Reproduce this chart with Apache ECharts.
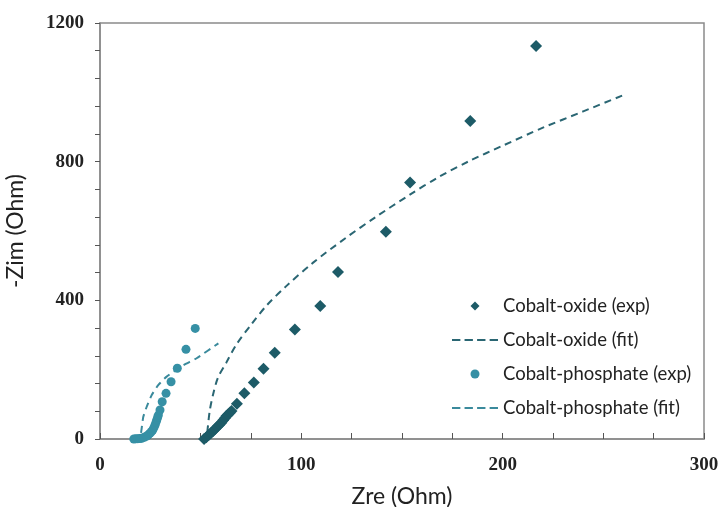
<!DOCTYPE html>
<html><head><meta charset="utf-8">
<script src="https://cdn.jsdelivr.net/npm/echarts@6/dist/echarts.min.js"></script>
<style>html,body{margin:0;padding:0;background:#fff}#c{width:723px;height:507px}</style>
</head><body><div id="c"></div>
<script>
const seriesNames = ['Cobalt-oxide (exp)', 'Cobalt-oxide (fit)', 'Cobalt-phosphate (exp)', 'Cobalt-phosphate (fit)'];
const xTitle = 'Zre (Ohm)';
const yTitle = '-Zim (Ohm)';
const oxideExp = [[51.7,0],[52.8,5],[54,11.5],[55.1,17],[56.2,23],[57.2,29],[58.3,36],[59.3,41],[60.3,47],[61.2,54],[62,60],[62.8,66],[63.6,71],[64.5,76],[65.3,81],[68,102],[71.7,132],[76.4,163],[81.2,203],[86.8,249],[96.8,316],[109.4,384],[118.2,482],[142,598],[154,740],[183.9,917],[216.6,1134]];
const oxideFit = [[53.3,20],[54.5,81],[56.2,129],[58.6,177],[62.8,221],[67.8,273],[75.2,331],[82.6,384],[92.5,441],[105.7,508],[122.3,581],[137.1,641],[153.7,704],[168,755],[183.5,802],[200,846],[220,898],[240,945],[260,992]];
const phosExp = [[16.8,0],[17.8,0.5],[18.8,1],[19.8,1.5],[20.7,2],[22,5],[23.2,8.7],[24,12],[24.8,16.4],[25.5,21],[26.2,26],[26.8,33],[27.3,40],[27.8,48],[28.2,55],[28.6,62],[29,69],[29.8,83.6],[30.9,107.6],[32.8,131.8],[35.3,165],[38.4,204],[42.7,258.7],[47.3,319]];
const phosFit = [[20.4,18],[20.7,31],[21.5,64],[23.2,93],[25.7,127],[29,156],[33.1,180],[41.4,213],[48,233],[58.8,276]];
const xTicks = [0, 100, 200, 300];
const yTicks = [0, 400, 800, 1200];

const cOx = '#1d5b67';
const cPh = '#3690a5';
const diamondIcon = 'path://M0,-1L1,0L0,1L-1,0Z';
const dashIcon = 'path://M0,0h8v2h-8z M12,0h8v2h-8z M24,0h8v2h-8z M36,0h8v2h-8z';
const chart = echarts.init(document.getElementById('c'));
chart.setOption({
  animation: false,
  backgroundColor: '#fff',
  grid: { left: 100, right: 19, top: 23, bottom: 68, show: true, borderColor: '#8a8a8a', borderWidth: 1.5,
    containLabel: false, outerBoundsMode: 'none' },
  xAxis: {
    type: 'value', min: 0, max: 300, interval: 25,
    name: xTitle, nameLocation: 'middle', nameGap: 46,
    nameTextStyle: { fontFamily: 'Lato', fontSize: 23, color: '#222' },
    axisLine: { show: true, lineStyle: { color: '#8a8a8a', width: 1.5 } },
    axisTick: { show: true, inside: true, length: 6, lineStyle: { color: '#555' } },
    axisLabel: { margin: 17, fontFamily: 'Liberation Serif', fontWeight: 'bold', fontSize: 19, color: '#222',
      formatter: v => xTicks.includes(v) ? String(v) : '' },
    splitLine: { show: false }
  },
  yAxis: {
    type: 'value', min: 0, max: 1200, interval: 80,
    name: yTitle, nameLocation: 'middle', nameGap: 73, nameRotate: 90,
    nameTextStyle: { fontFamily: 'Lato', fontSize: 23, color: '#222' },
    axisLine: { show: true, lineStyle: { color: '#8a8a8a', width: 1.5 } },
    axisTick: { show: true, inside: false, length: 5, lineStyle: { color: '#555' } },
    axisLabel: { margin: 16, fontFamily: 'Liberation Serif', fontWeight: 'bold', fontSize: 19, color: '#222',
      formatter: v => yTicks.includes(v) ? String(v) : '' },
    splitLine: { show: false }
  },
  legend: {
    orient: 'vertical', left: 447, top: 291,
    itemWidth: 46, itemHeight: 9, itemGap: 14,
    symbolKeepAspect: true,
    textStyle: { fontFamily: 'Lato', fontSize: 18.5, color: '#222', lineHeight: 20 },
    data: [
      { name: seriesNames[0], icon: diamondIcon },
      { name: seriesNames[1], icon: dashIcon },
      { name: seriesNames[2], icon: 'circle' },
      { name: seriesNames[3], icon: dashIcon }
    ]
  },
  series: [
    { name: seriesNames[0], type: 'scatter', data: oxideExp, symbol: 'diamond', symbolSize: 12, itemStyle: { color: cOx, opacity: 1 }, z: 3 },
    { name: seriesNames[1], type: 'line', data: oxideFit, symbol: 'none', showSymbol: false, smooth: 0.3,
      lineStyle: { color: '#2a6673', width: 2, type: [7, 5] }, itemStyle: { color: '#2a6673' }, z: 2 },
    { name: seriesNames[2], type: 'scatter', data: phosExp, symbol: 'circle', symbolSize: 9, itemStyle: { color: cPh, opacity: 1 }, z: 3 },
    { name: seriesNames[3], type: 'line', data: phosFit, symbol: 'none', showSymbol: false, smooth: 0.15,
      lineStyle: { color: '#3a8a9c', width: 2, type: [7, 5] }, itemStyle: { color: '#3a8a9c' }, z: 2 }
  ]
});
</script></body></html>
